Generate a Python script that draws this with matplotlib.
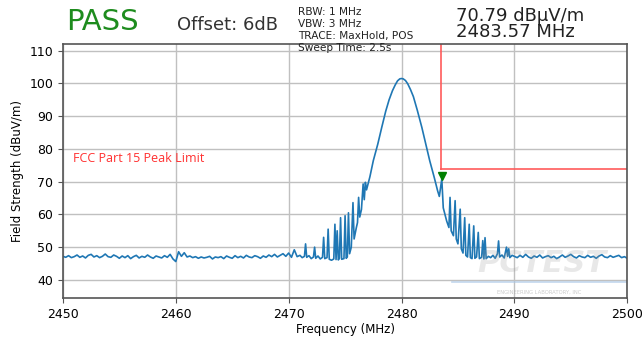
import matplotlib
matplotlib.use('Agg')
import matplotlib.pyplot as plt
import numpy as np

# noise floor left of the channel, 0.25 MHz steps from 2450 MHz
floor_left = [47.2, 46.9, 47.4, 46.8, 47.1, 47.6, 46.9, 47.3, 46.7, 47.5,
              47.8, 47.0, 47.4, 46.8, 47.2, 47.9, 47.1, 46.9, 47.6, 47.2,
              46.6, 47.3, 46.8, 47.4, 46.5, 47.1, 47.5, 46.7, 47.2, 46.9,
              47.6, 47.0, 46.6, 47.3, 47.0, 46.7, 47.4, 46.9, 47.8, 46.4,
              45.6, 48.6, 47.2, 48.3, 47.0, 47.3, 46.8, 47.1, 46.6, 47.0,
              46.7, 46.9, 47.2, 46.4, 47.0, 46.8, 47.1, 46.5, 47.3, 46.9,
              46.6, 47.4, 46.8, 47.2, 46.7, 47.5, 47.0, 46.8, 47.4, 47.1,
              46.6, 47.3, 46.9, 47.6, 47.1, 47.8, 47.0, 47.5, 48.0, 47.2,
              48.2, 46.9, 49.2, 47.1, 47.5]

# spikes + main lobe + spikes (irregular frequencies)
mid_freq = [2471.2, 2471.4, 2471.5, 2471.6, 2471.8, 2472.0, 2472.2, 2472.3, 2472.4, 2472.6,
            2472.8, 2473.0, 2473.1, 2473.2, 2473.4, 2473.5, 2473.6, 2473.8, 2474.0, 2474.1,
            2474.2, 2474.3, 2474.4, 2474.5, 2474.6, 2474.7, 2474.9, 2475.0, 2475.1, 2475.2,
            2475.3, 2475.4, 2475.55, 2475.7, 2475.8, 2476.0, 2476.1, 2476.2, 2476.3, 2476.45,
            2476.6, 2476.7, 2476.8, 2476.9, 2477.2, 2477.5, 2477.9, 2478.25, 2478.6, 2478.9,
            2479.2, 2479.45, 2479.65, 2479.85, 2480.0, 2480.15, 2480.35, 2480.55, 2480.8, 2481.05,
            2481.4, 2481.8, 2482.15, 2482.5, 2482.9, 2483.2, 2483.35, 2483.45, 2483.57, 2483.7,
            2483.85, 2484.0, 2484.1, 2484.2, 2484.3, 2484.4, 2484.6, 2484.75, 2484.85, 2485.0,
            2485.2, 2485.3, 2485.45, 2485.6, 2485.7, 2485.85, 2486.0, 2486.1, 2486.25, 2486.4,
            2486.5, 2486.65, 2486.8, 2486.9, 2487.1, 2487.2, 2487.3, 2487.4, 2487.5, 2487.7,
            2487.9, 2488.1, 2488.3, 2488.5, 2488.6, 2488.7, 2488.9, 2489.1, 2489.3, 2489.4,
            2489.5, 2489.6, 2489.8]
mid_level = [46.8, 47.2, 51.0, 46.9, 47.4, 46.5, 47.0, 50.0, 46.6, 47.3,
             46.4, 46.9, 53.0, 46.5, 46.8, 55.5, 46.3, 46.0, 46.4, 57.0,
             46.2, 55.0, 46.1, 46.6, 59.0, 46.3, 46.5, 59.6, 46.6, 47.0,
             60.5, 48.0, 50.0, 63.6, 52.5, 56.0, 57.5, 65.2, 59.2, 61.5,
             69.3, 64.5, 69.8, 67.5, 71.5, 76.4, 81.5, 86.6, 91.5, 95.0,
             97.8, 99.6, 100.8, 101.4, 101.5, 101.4, 100.9, 99.9, 98.1, 96.0,
             91.8, 86.6, 81.5, 76.4, 71.3, 67.2, 65.5, 68.0, 70.79, 62.0,
             60.0, 58.0, 57.0, 56.0, 65.2, 55.0, 53.5, 64.2, 52.5, 51.0,
             61.6, 49.5, 48.2, 59.0, 47.5, 47.0, 57.0, 46.8, 46.5, 56.5,
             46.6, 47.0, 54.5, 46.5, 46.9, 52.0, 46.4, 52.9, 46.5, 47.2,
             46.8, 47.5, 46.6, 48.0, 51.9, 47.0, 47.6, 46.7, 50.0, 47.2,
             49.5, 46.8, 47.5]

# noise floor right of the channel, 0.25 MHz steps from 2490 MHz
floor_right = [47.2, 46.8, 47.5, 46.9, 47.8, 47.0, 46.6, 47.3, 46.9, 47.6,
               46.7, 47.1, 47.4, 46.8, 47.2, 46.5, 47.0, 47.6, 46.9, 47.3,
               47.8, 47.1, 46.7, 47.4, 47.0, 46.8, 47.5, 46.9, 47.2, 46.6,
               47.3, 47.7, 47.0, 46.8, 47.4, 46.9, 47.2, 47.5, 46.8, 47.1,
               46.6]

limit_freq = 2483.5
limit_level = 74.0
mk_freq = 2483.57
mk_level = 70.79

freq = np.concatenate([2450 + 0.25 * np.arange(len(floor_left)),
                       mid_freq,
                       2490 + 0.25 * np.arange(len(floor_right))])
level = np.concatenate([floor_left, mid_level, floor_right])

fig = plt.figure(figsize=(6.42, 3.37), dpi=100)
ax = fig.add_axes([0.098, 0.116, 0.879, 0.753])

# watermark (behind the trace)
ax.text(0.735, 0.078, 'PCTEST', transform=ax.transAxes, fontsize=22, fontweight='bold',
        style='italic', color='#999999', alpha=0.22, family='DejaVu Sans', va='bottom')
ax.text(0.77, 0.022, 'ENGINEERING LABORATORY, INC', transform=ax.transAxes, fontsize=3.8,
        color='#aaaaaa', alpha=0.6, va='center')
ax.axhline(39.3, xmin=0.69, xmax=1.0, color='#a9c6e6', lw=1.2, alpha=0.7)

ax.plot(freq, level, color='#1f77b4', lw=1.2)

# limit line
ax.plot([limit_freq, limit_freq], [limit_level, 115], color='#ff5a5a', lw=1.4, alpha=0.85)
ax.plot([limit_freq, 2500], [limit_level, limit_level], color='#ff5a5a', lw=1.4, alpha=0.85)
ax.plot(mk_freq, mk_level + 1.0, marker='v', color='green', ms=6, ls='none')

ax.text(2450.9, 77, 'FCC Part 15 Peak Limit', color='#ff3030', fontsize=9,
        family='Open Sans', va='center')

ax.set_xlim(2450, 2500)
ax.set_ylim(34.5, 112)
ax.set_xticks(np.arange(2450, 2501, 10))
ax.set_yticks(np.arange(40, 111, 10))
ax.grid(True, color='#c0c0c0', lw=1.0)
ax.tick_params(labelsize=9, color='#555555')
for s in ax.spines.values():
    s.set_color('#555555')
    s.set_linewidth(1.2)
ax.set_xlabel('Frequency (MHz)', fontsize=8.5, labelpad=2)
ax.set_ylabel('Field Strength (dBuV/m)', fontsize=8.5)

# header
fig.text(0.103, 0.911, 'PASS', color='#1e8c1e', fontsize=21, family='DejaVu Sans')
fig.text(0.275, 0.911, 'Offset: 6dB', color='#333333', fontsize=13, family='DejaVu Sans')
fig.text(0.464, 0.978, 'RBW: 1 MHz\nVBW: 3 MHz\nTRACE: MaxHold, POS\nSweep Time: 2.5s',
         fontsize=7.6, color='#222222', va='top', linespacing=1.22)
fig.text(0.711, 0.978, '70.79 dB\u00b5V/m\n2483.57 MHz', fontsize=13, color='#222222',
         family='DejaVu Sans', va='top', linespacing=0.82)

fig.savefig('out.png', dpi=100)
